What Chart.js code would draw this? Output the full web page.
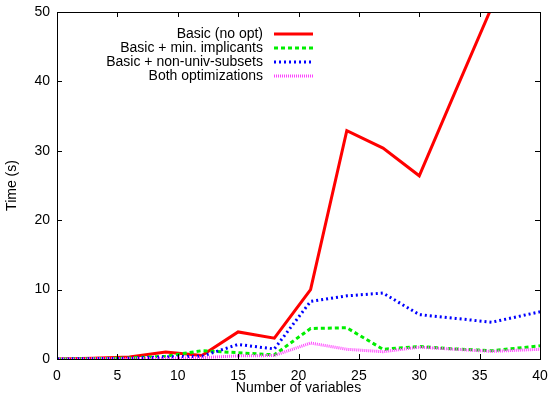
<!DOCTYPE html>
<html>
<head>
<meta charset="utf-8">
<script src="https://cdn.jsdelivr.net/npm/chart.js@4/dist/chart.umd.min.js"></script>
<style>
html,body{margin:0;padding:0;background:#fff;}
#wrap{width:552px;height:395px;position:relative;}
</style>
</head>
<body>
<div id="wrap"><canvas id="c" width="552" height="395"></canvas></div>
<script>
const nVars = [0, 3, 6, 9, 12, 15, 18, 21, 24, 27, 30, 33, 36, 40];
const basicNoOpt = [0, 0.1, 0.3, 1.0, 0.5, 3.9, 3.0, 10.0, 32.9, 30.4, 26.4, 38.6, 50.7, null];
const basicMinImpl = [0, 0.05, 0.15, 0.4, 1.2, 0.9, 0.6, 4.4, 4.5, 1.4, 1.8, 1.45, 1.2, 1.9];
const basicNonUniv = [0, 0.05, 0.1, 0.3, 0.4, 2.1, 1.45, 8.3, 9.1, 9.5, 6.4, 5.85, 5.3, 6.8];
const bothOpt = [0, 0.02, 0.05, 0.1, 0.2, 0.45, 0.5, 2.3, 1.4, 1.05, 1.7, 1.4, 1.1, 1.4];
const seriesNames = ["Basic (no opt)", "Basic + min. implicants", "Basic + non-univ-subsets", "Both optimizations"];
const xTicks = [0, 5, 10, 15, 20, 25, 30, 35, 40];
const yTicks = [0, 10, 20, 30, 40, 50];

const FONT = "'Liberation Sans', Arial, Helvetica, sans-serif";
const toPts = arr => nVars.map((x, i) => ({x: x, y: arr[i]}));

const styles = [
  {color: '#ff0000', dash: []},
  {color: '#00ee00', dash: [4, 3]},
  {color: '#0000ff', dash: [2, 3]},
  {color: '#ff44ff', dash: [1, 1]}
];
const seriesData = [basicNoOpt, basicMinImpl, basicNonUniv, bothOpt];

const datasets = seriesData.map((arr, i) => ({
  label: seriesNames[i],
  data: toPts(arr),
  borderColor: styles[i].color,
  backgroundColor: styles[i].color,
  borderWidth: 3,
  borderDash: styles[i].dash,
  pointRadius: 0,
  tension: 0,
  spanGaps: false,
  fill: false
}));
datasets.forEach((d, i) => d.order = 4 - i);

const frameAndTicks = {
  id: 'frameAndTicks',
  afterDraw(chart) {
    const {ctx, chartArea: a, scales} = chart;
    ctx.save();
    ctx.strokeStyle = '#000';
    ctx.lineWidth = 1;
    ctx.setLineDash([]);
    ctx.strokeRect(a.left + 0.5, a.top + 0.5, a.right - a.left, a.bottom - a.top);
    const L = 5;
    ctx.beginPath();
    xTicks.forEach(v => {
      const px = Math.round(scales.x.getPixelForValue(v)) + 0.5;
      if (v === xTicks[0] || v === xTicks[xTicks.length - 1]) return;
      ctx.moveTo(px, a.bottom); ctx.lineTo(px, a.bottom - L);
      ctx.moveTo(px, a.top); ctx.lineTo(px, a.top + L);
    });
    yTicks.forEach(v => {
      const py = Math.round(scales.y.getPixelForValue(v)) + 0.5;
      if (v === yTicks[0] || v === yTicks[yTicks.length - 1]) return;
      ctx.moveTo(a.left, py); ctx.lineTo(a.left + L, py);
      ctx.moveTo(a.right, py); ctx.lineTo(a.right - L, py);
    });
    ctx.stroke();

    ctx.font = '14px ' + FONT;
    ctx.textAlign = 'right';
    ctx.textBaseline = 'middle';
    const rows = [34, 48, 62, 76];
    chart.data.datasets.forEach((d, i) => {
      const y = rows[i];
      ctx.fillStyle = '#000';
      ctx.fillText(d.label, 263, y);
      ctx.strokeStyle = d.borderColor;
      ctx.lineWidth = 3;
      ctx.setLineDash(d.borderDash);
      ctx.beginPath();
      ctx.moveTo(274, y); ctx.lineTo(313, y);
      ctx.stroke();
    });
    ctx.restore();
  }
};

new Chart(document.getElementById('c'), {
  type: 'line',
  data: {datasets},
  options: {
    responsive: false,
    animation: false,
    layout: {padding: {left: 0, right: 12, top: 12, bottom: 0}},
    plugins: {legend: {display: false}, tooltip: {enabled: false}},
    scales: {
      x: {
        type: 'linear', min: 0, max: 40,
        afterBuildTicks: s => { s.ticks = xTicks.map(v => ({value: v})); },
        afterFit: s => { s.height = 36; s.paddingLeft = 0; s.paddingRight = 0; },
        grid: {display: false, drawTicks: false},
        border: {display: true, color: '#000', width: 1},
        ticks: {color: '#000', font: {family: FONT, size: 14}, padding: 9, maxRotation: 0, autoSkip: false},
        title: {display: true, text: 'Number of variables', color: '#000', font: {family: FONT, size: 14}, padding: {top: 0, bottom: -2}}
      },
      y: {
        type: 'linear', min: 0, max: 50,
        afterBuildTicks: s => { s.ticks = yTicks.map(v => ({value: v})); },
        afterFit: s => { s.width = 57; s.paddingTop = 0; s.paddingBottom = 0; },
        grid: {display: false, drawTicks: false},
        border: {display: true, color: '#000', width: 1},
        ticks: {color: '#000', font: {family: FONT, size: 14}, padding: 7, autoSkip: false},
        title: {display: true, text: 'Time (s)', color: '#000', font: {family: FONT, size: 14}, padding: {top: 4, bottom: 0}}
      }
    }
  },
  plugins: [frameAndTicks]
});
</script>
</body>
</html>
